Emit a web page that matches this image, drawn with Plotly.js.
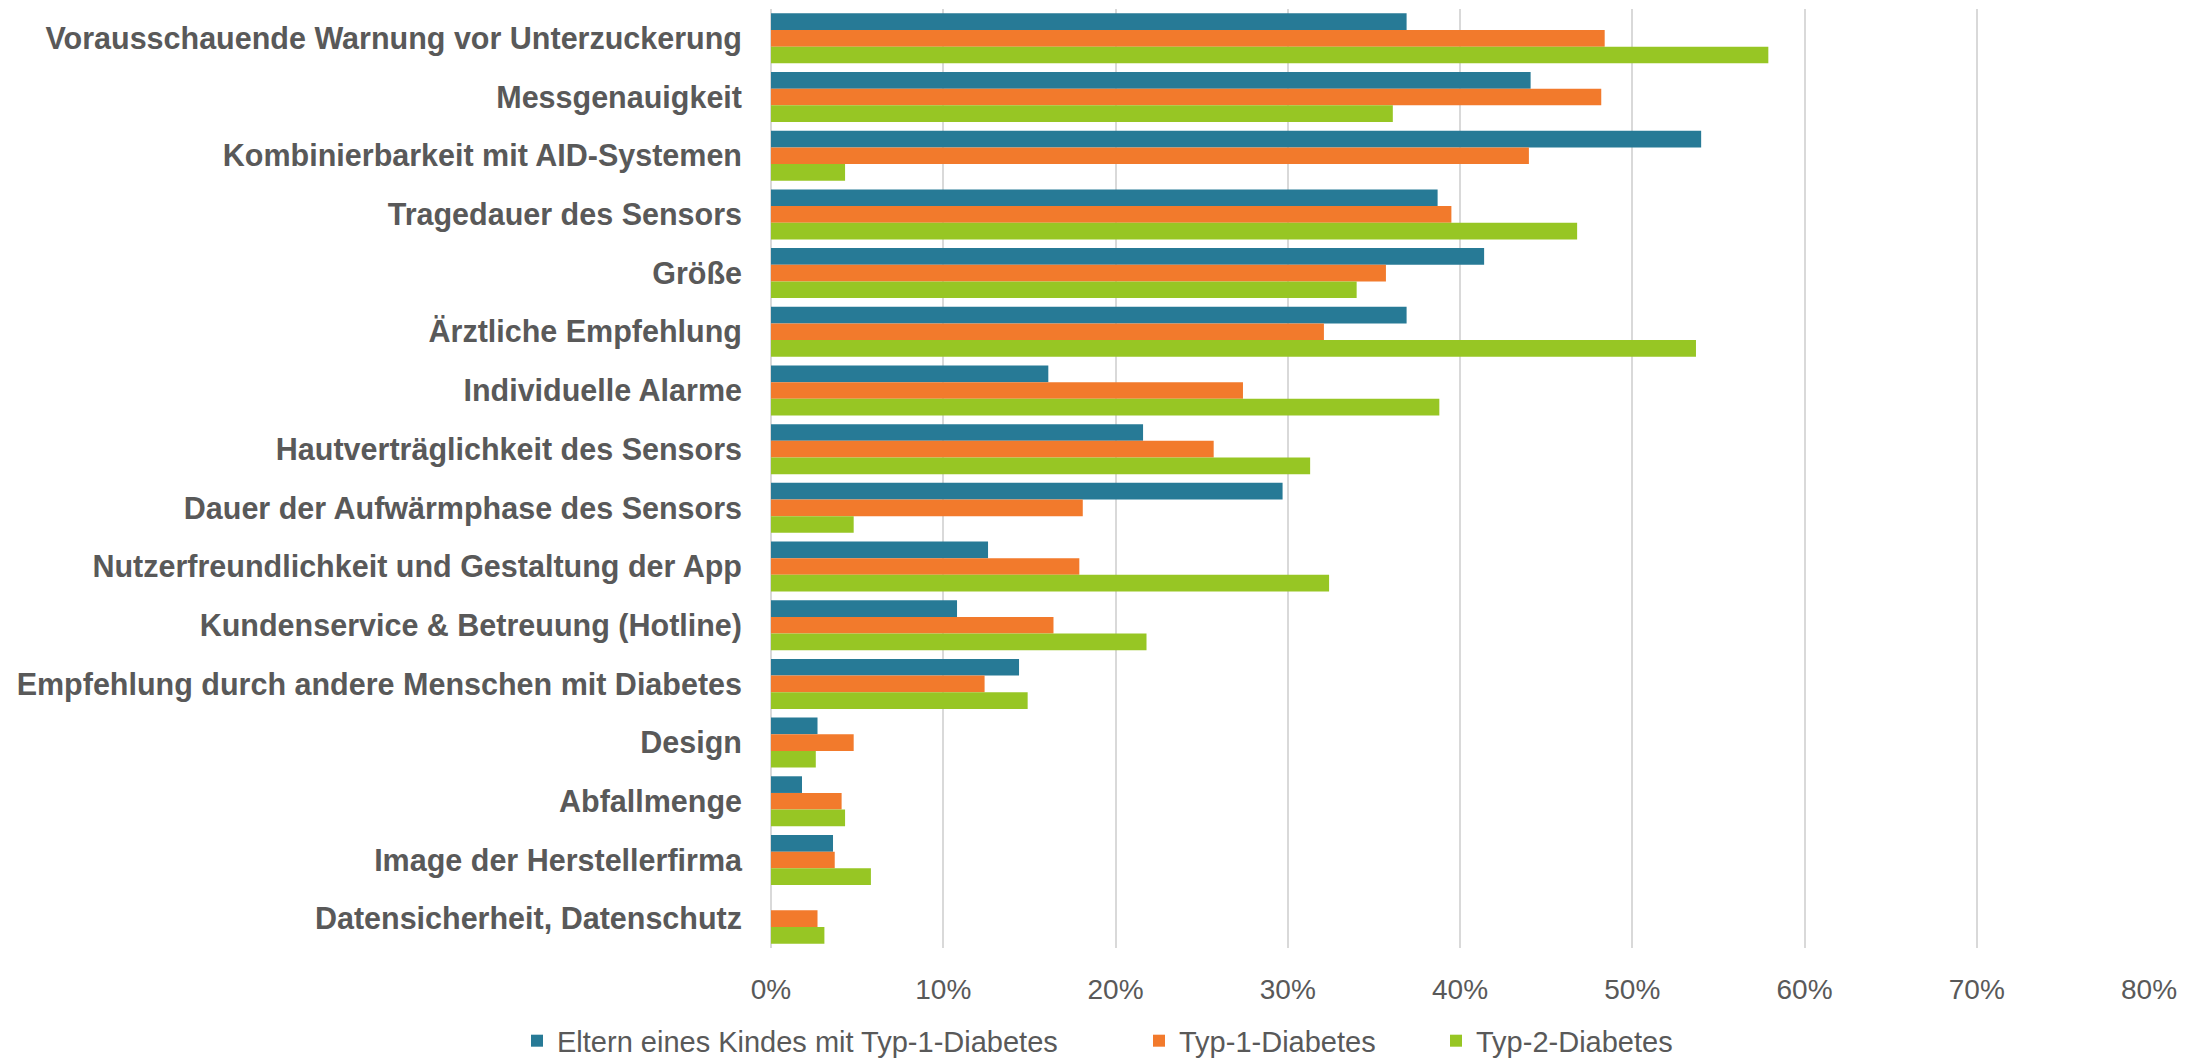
<!DOCTYPE html>
<html>
<head>
<meta charset="utf-8">
<script src="https://cdn.plot.ly/plotly-3.0.1.min.js"></script>
<style>
html,body{margin:0;padding:0;background:#fff;}
#chart{width:2203px;height:1061px;}
</style>
</head>
<body>
<div id="chart"></div>
<script>
const categories = [
  "Vorausschauende Warnung vor Unterzuckerung",
  "Messgenauigkeit",
  "Kombinierbarkeit mit AID-Systemen",
  "Tragedauer des Sensors",
  "Größe",
  "Ärztliche Empfehlung",
  "Individuelle Alarme",
  "Hautverträglichkeit des Sensors",
  "Dauer der Aufwärmphase des Sensors",
  "Nutzerfreundlichkeit und Gestaltung der App",
  "Kundenservice & Betreuung (Hotline)",
  "Empfehlung durch andere Menschen mit Diabetes",
  "Design",
  "Abfallmenge",
  "Image der Herstellerfirma",
  "Datensicherheit, Datenschutz"
];
const seriesNames = ["Eltern eines Kindes mit Typ-1-Diabetes", "Typ-1-Diabetes", "Typ-2-Diabetes"];
const eltern = [0.369, 0.441, 0.540, 0.387, 0.414, 0.369, 0.161, 0.216, 0.297, 0.126, 0.108, 0.144, 0.027, 0.018, 0.036, 0];
const typ1   = [0.484, 0.482, 0.440, 0.395, 0.357, 0.321, 0.274, 0.257, 0.181, 0.179, 0.164, 0.124, 0.048, 0.041, 0.037, 0.027];
const typ2   = [0.579, 0.361, 0.043, 0.468, 0.340, 0.537, 0.388, 0.313, 0.048, 0.324, 0.218, 0.149, 0.026, 0.043, 0.058, 0.031];
const tickVals = [0, 0.1, 0.2, 0.3, 0.4, 0.5, 0.6, 0.7, 0.8];

const colors = ["#277A96", "#F27A2C", "#97C624"];
const legendWidths = [577, 252, 205];
const values = [eltern, typ1, typ2];

const traces = values.map((v, i) => ({
  type: "bar",
  orientation: "h",
  name: seriesNames[i],
  x: v,
  y: categories,
  marker: {color: colors[i]},
  legendwidth: legendWidths[i],
  hoverinfo: "x+y+name"
}));

const layout = {
  width: 2203,
  height: 1061,
  paper_bgcolor: "#ffffff",
  plot_bgcolor: "#ffffff",
  margin: {l: 771, r: 54, t: 9, b: 113, pad: 0},
  barmode: "group",
  bargap: 0.148,
  bargroupgap: 0,
  font: {family: "Liberation Sans, Arial, sans-serif", color: "#595959"},
  xaxis: {
    range: [0, 0.8],
    tickvals: tickVals,
    tickformat: ".0%",
    showgrid: true,
    gridcolor: "#d9d9d9",
    gridwidth: 2,
    zeroline: true,
    zerolinecolor: "#d9d9d9",
    zerolinewidth: 2,
    showline: false,
    ticks: "",
    tickfont: {size: 28, color: "#595959"},
    ticklabelstandoff: 22,
    fixedrange: true
  },
  yaxis: {
    type: "category",
    autorange: "reversed",
    showgrid: false,
    zeroline: false,
    showline: false,
    ticks: "",
    tickfont: {size: 30.5, color: "#595959", weight: "bold"},
    ticklabelstandoff: 28,
    fixedrange: true
  },
  showlegend: true,
  legend: {
    orientation: "h",
    xref: "container",
    yref: "container",
    x: 0.5,
    xanchor: "center",
    y: 0.019,
    yanchor: "middle",
    font: {size: 29, color: "#595959"},
    traceorder: "normal",
    entrywidthmode: "pixels",
    bgcolor: "rgba(0,0,0,0)"
  }
};

Plotly.newPlot("chart", traces, layout, {displayModeBar: false, staticPlot: true});
</script>
</body>
</html>
